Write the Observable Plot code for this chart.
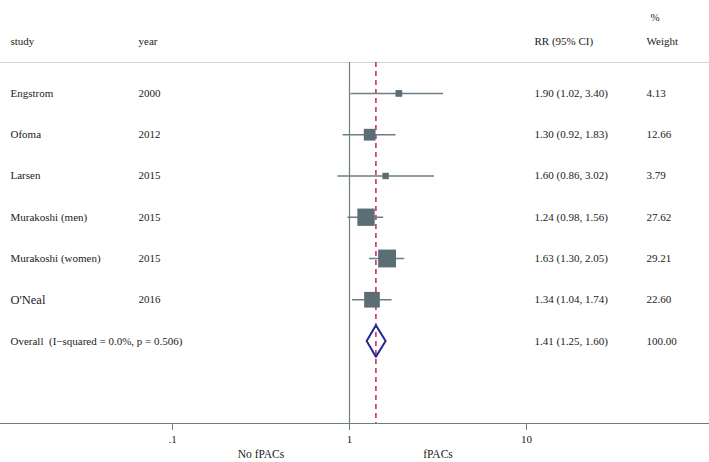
<!DOCTYPE html>
<html>
<head>
<meta charset="utf-8">
<script src="https://cdn.jsdelivr.net/npm/d3@7"></script>
<script src="https://cdn.jsdelivr.net/npm/@observablehq/plot@0.6"></script>
<style>
  html, body { margin: 0; padding: 0; background: #fff; }
  #chart svg { display: block; }
</style>
</head>
<body>
<div id="chart"></div>
<script>
// ---- data ----
const studies = ["Engstrom", "Ofoma", "Larsen", "Murakoshi (men)", "Murakoshi (women)", "O'Neal"];
const years = [2000, 2012, 2015, 2015, 2015, 2016];
const rr = [1.90, 1.30, 1.60, 1.24, 1.63, 1.34];
const lower = [1.02, 0.92, 0.86, 0.98, 1.30, 1.04];
const upper = [3.40, 1.83, 3.02, 1.56, 2.05, 1.74];
const weights = [4.13, 12.66, 3.79, 27.62, 29.21, 22.60];
const overallLabel = "Overall  (I\u2212squared = 0.0%, p = 0.506)";
const overallRR = 1.41, overallLower = 1.25, overallUpper = 1.60, overallWeight = 100.00;
const xTicks = [0.1, 1, 10];
const xTickLabels = [".1", "1", "10"];
const sideLabels = ["No fPACs", "fPACs"];
const headers = { study: "study", year: "year", rr: "RR (95% CI)", pct: "%", weight: "Weight" };

// ---- derived tables ----
const fmt = v => v.toFixed(2);
const rows = studies.map((s, i) => ({
  i, study: s, year: String(years[i]), rr: rr[i], lo: lower[i], hi: upper[i], w: weights[i],
  ci: `${fmt(rr[i])} (${fmt(lower[i])}, ${fmt(upper[i])})`, wt: fmt(weights[i])
}));
const oi = rows.length;
const textRows = rows.concat([{
  i: oi, study: overallLabel, year: "", ci: `${fmt(overallRR)} (${fmt(overallLower)}, ${fmt(overallUpper)})`,
  wt: fmt(overallWeight)
}]);
const dh = 0.383;
const diamond = [
  {x: overallLower, y: oi}, {x: overallRR, y: oi - dh}, {x: overallUpper, y: oi},
  {x: overallRR, y: oi + dh}, {x: overallLower, y: oi}
];
const sideData = [{x: Math.sqrt(xTicks[0] * xTicks[1]), label: sideLabels[0]},
                  {x: Math.sqrt(xTicks[1] * xTicks[2]), label: sideLabels[1]}];

const grey = "#6c7d84";
const txt = "#222";

const chart = Plot.plot({
  width: 709,
  height: 462,
  marginLeft: 0,
  marginRight: 0,
  marginTop: 62,
  marginBottom: 39,
  style: { fontFamily: "Liberation Serif, Times New Roman, serif", fontSize: "11px", background: "white", color: txt },
  x: { type: "log", domain: [Math.pow(10, -349 / 177), Math.pow(10, 360 / 177)] },
  y: { domain: [-0.75, 8], reverse: true, axis: null },
  r: { type: "identity" },
  marks: [
    Plot.frame({ anchor: "top", stroke: "#cdd7de" }),
    Plot.frame({ anchor: "bottom", stroke: grey }),
    Plot.ruleX([1], { stroke: grey, strokeWidth: 1.2 }),
    Plot.ruleX([overallRR], { stroke: "#c4245a", strokeWidth: 1.5, strokeDasharray: "5,4" }),
    Plot.ruleY(rows, { y: "i", x1: "lo", x2: "hi", stroke: grey, strokeWidth: 1.6 }),
    Plot.dot(rows, { x: "rr", y: "i", symbol: "square", fill: "#5b6d75",
      r: d => 3.3 * Math.sqrt(d.w) / Math.sqrt(Math.PI) }),
    Plot.line(diamond, { x: "x", y: "y", stroke: "#1f2a8c", strokeWidth: 2, curve: "linear" }),
    Plot.axisX({ ticks: xTicks, tickFormat: d => xTickLabels[xTicks.indexOf(d)], tickSize: 7,
      tickPadding: 5, stroke: grey, label: null, fontSize: 11, fill: txt }),
    // headers
    Plot.text([headers.study], { frameAnchor: "top-left", dx: 10, dy: -25, textAnchor: "start", fill: txt }),
    Plot.text([headers.year], { frameAnchor: "top-left", dx: 138, dy: -25, textAnchor: "start", fill: txt }),
    Plot.text([headers.rr], { frameAnchor: "top-right", dx: -175, dy: -25, textAnchor: "start", fill: txt }),
    Plot.text([headers.weight], { frameAnchor: "top-right", dx: -63, dy: -25, textAnchor: "start", fill: txt }),
    Plot.text([headers.pct], { frameAnchor: "top-right", dx: -59, dy: -49, textAnchor: "start", fill: txt }),
    // row columns
    Plot.text(textRows, { y: "i", text: "study", frameAnchor: "left", dx: 10, textAnchor: "start", fill: txt,
      fontSize: d => d.study === "O'Neal" ? 12.5 : 11 }),
    Plot.text(textRows, { y: "i", text: "year", frameAnchor: "left", dx: 138, textAnchor: "start", fill: txt }),
    Plot.text(textRows, { y: "i", text: "ci", frameAnchor: "right", dx: -175, textAnchor: "start", fill: txt }),
    Plot.text(textRows, { y: "i", text: "wt", frameAnchor: "right", dx: -63, textAnchor: "start", fill: txt }),
    // bottom side labels
    Plot.text(sideData, { x: "x", text: "label", frameAnchor: "bottom", dy: 34, fill: txt, fontSize: 11.5 })
  ]
});
document.getElementById("chart").appendChild(chart);
</script>
</body>
</html>
